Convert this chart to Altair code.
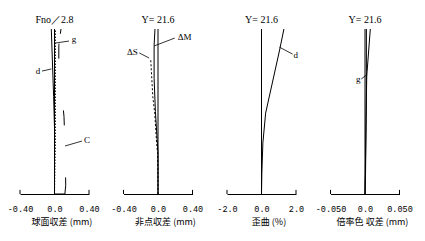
import altair as alt
import pandas as pd

# ---------------- data (relative image height 0..1) ----------------
# Panel 1: spherical aberration, Fno 2.8
SA_D_H = [0.0, 0.2, 0.4, 0.59, 0.8, 1.0]
SA_D_X = [0.0, 0.0, 0.0, -0.01, -0.024, -0.037]
SA_G_H = [0.0, 0.3, 0.6, 0.8, 1.0]
SA_G_X = [0.0, 0.01, 0.01, 0.01, 0.01]
SA_C_H = [0.0, 0.0, 0.05, 0.25, 0.47, 0.8, 0.9, 1.0]
SA_C_X = [0.0, 0.12, 0.13, 0.125, 0.11, 0.05, 0.05, 0.075]

# Panel 2: astigmatism, Y = 21.6
AS_M_H = [0.0, 0.25, 0.33, 0.5, 0.7, 0.9, 1.0]
AS_M_X = [0.0, 0.0, -0.01, -0.03, -0.045, -0.045, -0.035]
AS_S_H = [0.0, 0.1, 0.25, 0.3, 0.49, 0.59, 0.82]
AS_S_X = [0.0, 0.0, -0.005, -0.015, -0.038, -0.06, -0.085]

# Panel 3: distortion (%), Y = 21.6
DI_D_H = [0.0, 0.127, 0.31, 0.49, 0.873, 1.0]
DI_D_X = [0.0, 0.02, 0.08, 0.24, 1.05, 1.30]

# Panel 4: lateral colour (mm), Y = 21.6
LC_G_H = [0.0, 0.13, 0.45, 0.71, 0.74, 1.0]
LC_G_X = [0.0, 0.0005, 0.0015, 0.0025, 0.003, 0.0077]
LC_C_H = [0.0, 0.13, 0.5, 0.74, 1.0]
LC_C_X = [0.0, 0.0008, 0.0018, 0.002, 0.002]

# axis ranges and tick labels
SA_MAX, SA_TICKS = 0.4, ["-0.40", "0.0", "0.40"]
AS_MAX, AS_TICKS = 0.4, ["-0.40", "0.0", "0.40"]
DI_MAX, DI_TICKS = 2.0, ["-2.0", "0.0", "2.0"]
LC_MAX, LC_TICKS = 0.05, ["-0.050", "0.0", "0.050"]

TITLES = ["Fno／2.8", "Y= 21.6", "Y= 21.6", "Y= 21.6"]
XTITLES = ["球面収差 (mm)", "非点収差 (mm)", "歪曲 (%)", "倍率色 収差 (mm)"]

# curve labels: text, x, y ; leader lines: x1, y1, x2, y2
SA_LABELS = [("g", 0.226, 0.94), ("d", -0.191, 0.745), ("C", 0.377, 0.327)]
SA_LEADERS = [(0.012, 0.915, 0.168, 0.927), (-0.145, 0.745, -0.035, 0.758),
              (0.319, 0.321, 0.122, 0.291)]
AS_LABELS = [("ΔS", -0.297, 0.86), ("ΔM", 0.309, 0.95)]
AS_LEADERS = [(-0.217, 0.855, -0.103, 0.824), (0.194, 0.945, -0.046, 0.897)]
DI_LABELS = [("d", 1.98, 0.842)]
DI_LEADERS = [(1.8, 0.848, 1.04, 0.89)]
LC_LABELS = [("g", -0.0097, 0.697)]
LC_LEADERS = [(-0.0054, 0.697, 0.0019, 0.721)]

NUM_FONT = "Liberation Mono"
TXT_FONT = "Liberation Serif"
CJK_FONT = "Noto Sans CJK JP"
W, H = 69, 165


def panel(xmax, ticks, curves, labels, leaders, title, xtitle):
    expr = f"datum.value < 0 ? '{ticks[0]}' : (datum.value > 0 ? '{ticks[2]}' : '{ticks[1]}')"
    xenc = alt.X("x:Q", scale=alt.Scale(domain=[-xmax, xmax], nice=False, zero=False),
                 axis=alt.Axis(values=[-xmax, 0, xmax], labelExpr=expr, ticks=False,
                               grid=False, domainColor="black", domainWidth=1,
                               labelFont=NUM_FONT, labelFontSize=8.5, labelColor="black",
                               labelPadding=10, labelFlush=False, title=xtitle,
                               titleFont=CJK_FONT, titleFontSize=9, titleFontWeight="normal",
                               titleColor="black", titlePadding=5,
                               titleX=W / 2 + 7, titleAlign="center"))
    yenc = alt.Y("y:Q", scale=alt.Scale(domain=[0, 1], nice=False), axis=None)

    vaxis = pd.DataFrame({"x": [0.0], "y": [0.0], "y2": [1.0]})
    layers = [alt.Chart(vaxis).mark_rule(color="black", strokeWidth=1).encode(
        x=xenc, y=yenc, y2="y2:Q")]
    ends = pd.DataFrame({"x": [-xmax, xmax], "y": [0.0, 0.0], "y2": [0.025, 0.025]})
    layers.append(alt.Chart(ends).mark_rule(color="black", strokeWidth=1).encode(
        x=xenc, y=yenc, y2="y2:Q"))
    for xs, hs, dash in curves:
        df = pd.DataFrame({"x": xs, "y": hs, "i": list(range(len(xs)))})
        kw = {"strokeDash": dash} if dash else {}
        layers.append(alt.Chart(df).mark_line(color="black", strokeWidth=1, **kw).encode(
            x=xenc, y=yenc, order="i:Q"))
    ld = pd.DataFrame({"x": [l[0] for l in leaders], "y": [l[1] for l in leaders],
                       "x2": [l[2] for l in leaders], "y2": [l[3] for l in leaders]})
    layers.append(alt.Chart(ld).mark_rule(color="black", strokeWidth=0.8).encode(
        x=xenc, y=yenc, x2="x2:Q", y2="y2:Q"))
    lt = pd.DataFrame({"t": [l[0] for l in labels], "x": [l[1] for l in labels],
                       "y": [l[2] for l in labels]})
    layers.append(alt.Chart(lt).mark_text(font=TXT_FONT, fontSize=9, fill="black").encode(
        x=xenc, y=yenc, text="t:N"))
    return alt.layer(*layers).properties(
        width=W, height=H,
        title=alt.TitleParams(text=title, font=TXT_FONT, fontSize=10, fontWeight="normal",
                              color="black", anchor="middle", frame="group", offset=2))


p1 = panel(SA_MAX, SA_TICKS,
           [(SA_D_X, SA_D_H, None), (SA_G_X, SA_G_H, [1.5, 1.5]),
            (SA_C_X, SA_C_H, [27, 52, 15, 52, 15, 10, 5, 20])],
           SA_LABELS, SA_LEADERS, TITLES[0], XTITLES[0])
p2 = panel(AS_MAX, AS_TICKS,
           [(AS_M_X, AS_M_H, None), (AS_S_X, AS_S_H, [2, 2])],
           AS_LABELS, AS_LEADERS, TITLES[1], XTITLES[1])
p3 = panel(DI_MAX, DI_TICKS, [(DI_D_X, DI_D_H, None)],
           DI_LABELS, DI_LEADERS, TITLES[2], XTITLES[2])
p4 = panel(LC_MAX, LC_TICKS,
           [(LC_G_X, LC_G_H, None), (LC_C_X, LC_C_H, None)],
           LC_LABELS, LC_LEADERS, TITLES[3], XTITLES[3])

chart = alt.hconcat(p1, p2, p3, p4, spacing=34.5, bounds="flush", background="white",
                    padding={"left": 7, "top": 15, "right": 0, "bottom": 0}
                    ).configure_view(strokeWidth=0)

chart.save("out.html", embed_options={"renderer": "svg", "actions": False})
